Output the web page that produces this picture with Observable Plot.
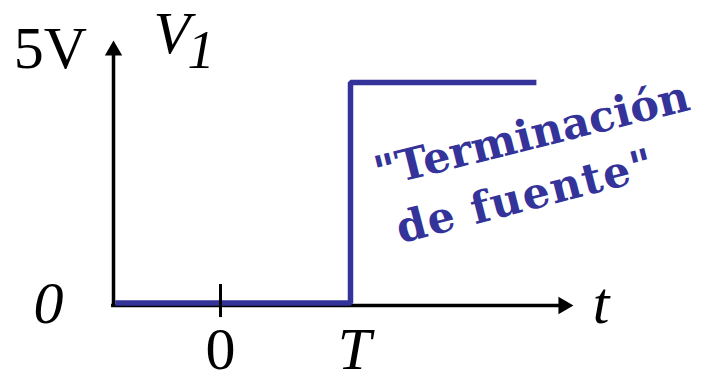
<!DOCTYPE html>
<html><head><meta charset="utf-8">
<script src="https://cdn.jsdelivr.net/npm/d3@7"></script>
<script src="https://cdn.jsdelivr.net/npm/@observablehq/plot@0.6"></script>
<style>body{margin:0;background:#fff}</style>
</head><body><div id="chart"></div>
<script>
// Data
const stepTimes = [-0.81, 1, 2.43];
const stepValues = [0, 5, 5];
const xTickValues = [0, 1];
const xTickLabels = ["0", "T"];
const yTickValues = [0, 5];
const yTickLabels = ["0", "5V"];
const xAxisTitle = "t";
const yAxisTitle = "V";
const yAxisSubscript = "1";
const annotationLines = ["\"Terminación", "de fuente\""];

const blue = "#333399";
const serif = "'Liberation Serif', 'Times New Roman', serif";
const boldSerif = "'DejaVu Serif', serif";
const axisX = -0.823;   // position of vertical axis (data units)
const axisY = -0.057;   // position of horizontal axis (data units)

const steps = stepTimes.map((t, i) => ({t, v: stepValues[i]}));

const chart = Plot.plot({
  width: 712,
  height: 376,
  x: {domain: [0, 1], range: [220, 350]},
  y: {domain: [0, 5], range: [302.5, 82]},
  axis: null,
  style: {background: "#fff", overflow: "visible"},
  marks: [
    // axes
    Plot.ruleY([axisY], {x1: -0.838, x2: 2.62, stroke: "#000", strokeWidth: 3.5}),
    Plot.ruleX([axisX], {y1: -0.1, y2: 5.72, stroke: "#000", strokeWidth: 3.5}),
    Plot.dot([{x: 2.638, y: axisY}], {x: "x", y: "y", symbol: "triangle", r: 6.43, fill: "#000", stroke: null, rotate: 90}),
    Plot.dot([{x: axisX, y: 5.726}], {x: "x", y: "y", symbol: "triangle", r: 6.43, fill: "#000", stroke: null}),
    // signal
    Plot.line(steps, {x: "t", y: "v", curve: "step-after", stroke: blue, strokeWidth: 5.5, strokeLinejoin: "miter", strokeLinecap: "butt"}),
    // tick at 0
    Plot.ruleX([xTickValues[0]], {y1: 0.42, y2: -0.33, stroke: "#000", strokeWidth: 3}),
    // x tick labels
    Plot.text([xTickLabels[0]], {x: xTickValues[0], y: 0, text: d => d, lineAnchor: "bottom", dy: 66, fontSize: 60, fontFamily: serif, fill: "#000"}),
    Plot.text([xTickLabels[1]], {x: xTickValues[1], y: 0, text: d => d, lineAnchor: "bottom", dy: 66, dx: 4, fontSize: 60, fontFamily: serif, fontStyle: "italic", fill: "#000"}),
    // y tick labels
    Plot.text([yTickLabels[0]], {x: axisX, y: yTickValues[0], text: d => d, lineAnchor: "bottom", dx: -65, dy: 19.5, fontSize: 60, fontFamily: serif, fontStyle: "italic", fill: "#000"}),
    Plot.text([yTickLabels[1]], {x: axisX, y: yTickValues[1], text: d => d, lineAnchor: "bottom", dx: -63, dy: -15, fontSize: 60, fontFamily: serif, fill: "#000"}),
    // axis titles
    Plot.text([xAxisTitle], {x: 2.72, y: axisY, text: d => d, lineAnchor: "bottom", dx: 27, dy: 17, fontSize: 60, fontFamily: serif, fontStyle: "italic", fill: "#000"}),
    Plot.text([yAxisTitle], {x: axisX, y: 5, text: d => d, textAnchor: "start", lineAnchor: "bottom", dx: 40, dy: -30, fontSize: 60, fontFamily: serif, fontStyle: "italic", fill: "#000"}),
    Plot.text([yAxisSubscript], {x: axisX, y: 5, text: d => d, textAnchor: "start", lineAnchor: "bottom", dx: 74, dy: -15, fontSize: 54, fontFamily: serif, fontStyle: "italic", fill: "#000"}),
    // annotation
    Plot.text([annotationLines[0]], {x: 1.215, y: 2.62, text: d => d, textAnchor: "start", lineAnchor: "bottom", rotate: -14, fontSize: 43, fontWeight: "bold", fontFamily: boldSerif, fill: blue}),
    Plot.text([annotationLines[1]], {x: 1.385, y: 1.35, text: d => d, textAnchor: "start", lineAnchor: "bottom", rotate: -14.5, fontSize: 43, fontWeight: "bold", fontFamily: boldSerif, fill: blue})
  ]
});
d3.select(chart).selectAll("text")
  .filter(function() { return this.textContent === annotationLines[1]; })
  .style("letter-spacing", "1.5px");
document.getElementById("chart").appendChild(chart);
</script>
</body></html>
